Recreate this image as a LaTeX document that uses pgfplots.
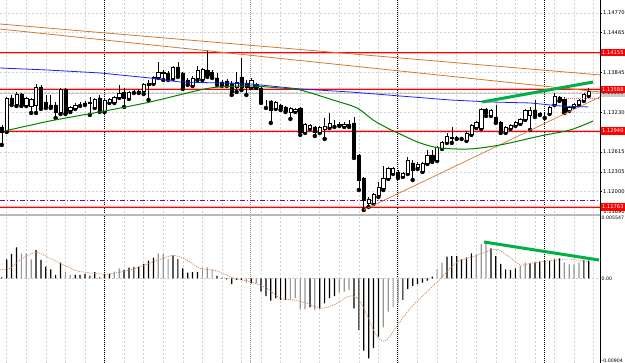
\documentclass[border=0pt]{standalone}
\usepackage{pgfplots}
\pgfplotsset{compat=1.18}
\usepackage{pgfplotstable}
\usepackage{fontspec}
\setmainfont{DejaVu Sans}

\definecolor{mtpink}{RGB}{255,175,175}
\definecolor{mtorange}{RGB}{215,120,50}
\definecolor{mtgreen}{RGB}{0,128,0}
\definecolor{mtblue}{RGB}{30,30,255}
\definecolor{mtlime}{RGB}{0,175,70}
\definecolor{mtpurple}{RGB}{150,0,150}
\definecolor{mtsig}{RGB}{205,135,95}
\definecolor{mtgray}{RGB}{150,150,150}

\pgfplotstableread{
i O H L C
0 1.13004 1.13035 1.12725 1.12926
1 1.12942 1.13469 1.12926 1.13453
2 1.13453 1.13500 1.13345 1.13376
3 1.13360 1.13546 1.13329 1.13515
4 1.13515 1.13531 1.13329 1.13345
5 1.13345 1.13469 1.13329 1.13453
6 1.13329 1.13453 1.13221 1.13438
7 1.13345 1.13670 1.13221 1.13624
8 1.13624 1.13655 1.13283 1.13314
9 1.13391 1.13500 1.13298 1.13314
10 1.13345 1.13500 1.13298 1.13314
11 1.13345 1.13391 1.13143 1.13236
12 1.13236 1.13608 1.13205 1.13593
13 1.13593 1.13608 1.13205 1.13221
14 1.13267 1.13329 1.13236 1.13314
15 1.13298 1.13376 1.13283 1.13345
16 1.13360 1.13391 1.13329 1.13360
17 1.13376 1.13407 1.13345 1.13368
18 1.13391 1.13469 1.13190 1.13376
19 1.13314 1.13453 1.13298 1.13438
20 1.13453 1.13500 1.13236 1.13267
21 1.13252 1.13453 1.13236 1.13422
22 1.13391 1.13453 1.13376 1.13438
23 1.13391 1.13484 1.13376 1.13469
24 1.13469 1.13655 1.13453 1.13531
25 1.13546 1.13608 1.13314 1.13453
26 1.13453 1.13562 1.13438 1.13546
27 1.13546 1.13577 1.13531 1.13546
28 1.13562 1.13593 1.13531 1.13554
29 1.13562 1.13686 1.13515 1.13670
30 1.13686 1.13732 1.13422 1.13655
31 1.13686 1.13794 1.13670 1.13779
32 1.13779 1.14011 1.13763 1.13856
33 1.13856 1.13887 1.13732 1.13841
34 1.13841 1.13872 1.13732 1.13748
35 1.13763 1.13949 1.13748 1.13934
36 1.13934 1.14011 1.13779 1.13810
37 1.13841 1.13856 1.13593 1.13624
38 1.13732 1.13763 1.13655 1.13686
39 1.13655 1.13794 1.13639 1.13763
40 1.13763 1.13949 1.13732 1.13887
41 1.13748 1.13918 1.13732 1.13903
42 1.13887 1.14197 1.13779 1.13810
43 1.13856 1.13887 1.13763 1.13779
44 1.13763 1.13841 1.13655 1.13686
45 1.13701 1.13732 1.13639 1.13670
46 1.13717 1.13748 1.13639 1.13670
47 1.13686 1.13717 1.13500 1.13546
48 1.13624 1.13856 1.13546 1.13701
49 1.13779 1.14073 1.13577 1.13624
50 1.13686 1.13732 1.13500 1.13624
51 1.13624 1.13763 1.13608 1.13732
52 1.13670 1.13686 1.13608 1.13624
53 1.13608 1.13624 1.13376 1.13391
54 1.13407 1.13422 1.13298 1.13407
55 1.13407 1.13422 1.13066 1.13267
56 1.13298 1.13407 1.13283 1.13391
57 1.13345 1.13360 1.13267 1.13298
58 1.13314 1.13329 1.13236 1.13252
59 1.13236 1.13314 1.13128 1.13298
60 1.13252 1.13298 1.13236 1.13283
61 1.13298 1.13314 1.12880 1.12926
62 1.12926 1.13066 1.12911 1.13050
63 1.12988 1.13050 1.12973 1.13035
64 1.13004 1.13019 1.12864 1.12926
65 1.12926 1.13019 1.12911 1.13004
66 1.12973 1.13143 1.12818 1.13019
67 1.13004 1.13221 1.12988 1.13066
68 1.13050 1.13112 1.13004 1.13050
69 1.13035 1.13081 1.13019 1.13050
70 1.13019 1.13081 1.13004 1.13050
71 1.13035 1.13112 1.13004 1.13042
72 1.13066 1.13159 1.12523 1.12539
73 1.12570 1.12586 1.12027 1.12182
74 1.12213 1.12229 1.11717 1.11872
75 1.11826 1.11919 1.11764 1.11888
76 1.11826 1.11981 1.11810 1.11965
77 1.11950 1.12151 1.11919 1.12074
78 1.12058 1.12399 1.12027 1.12213
79 1.12213 1.12384 1.12198 1.12368
80 1.12291 1.12384 1.12275 1.12368
81 1.12306 1.12337 1.12213 1.12229
82 1.12244 1.12306 1.12229 1.12291
83 1.12291 1.12539 1.12275 1.12492
84 1.12446 1.12492 1.12182 1.12337
85 1.12384 1.12461 1.12353 1.12430
86 1.12322 1.12461 1.12306 1.12446
87 1.12446 1.12647 1.12430 1.12570
88 1.12570 1.12647 1.12461 1.12492
89 1.12492 1.12709 1.12477 1.12694
90 1.12678 1.12787 1.12663 1.12771
91 1.12771 1.12911 1.12756 1.12864
92 1.12833 1.13004 1.12756 1.12849
93 1.12841 1.12864 1.12818 1.12841
94 1.12833 1.12849 1.12818 1.12833
95 1.12802 1.12942 1.12787 1.12911
96 1.12895 1.13050 1.12880 1.13035
97 1.13004 1.13097 1.12988 1.13081
98 1.12988 1.13298 1.12973 1.13283
99 1.13283 1.13298 1.13174 1.13221
100 1.13190 1.13283 1.13174 1.13267
101 1.13159 1.13345 1.13066 1.13081
102 1.13081 1.13097 1.12911 1.12926
103 1.12926 1.13019 1.12911 1.13004
104 1.12988 1.13050 1.12973 1.13035
105 1.13035 1.13097 1.13019 1.13081
106 1.13066 1.13143 1.13050 1.13128
107 1.13128 1.13283 1.13112 1.13267
108 1.13190 1.13314 1.12957 1.13267
109 1.13267 1.13422 1.13159 1.13174
110 1.13205 1.13236 1.13190 1.13221
111 1.13205 1.13236 1.13143 1.13205
112 1.13221 1.13329 1.13205 1.13314
113 1.13360 1.13531 1.13345 1.13484
114 1.13469 1.13484 1.13407 1.13422
115 1.13438 1.13469 1.13221 1.13236
116 1.13267 1.13329 1.13252 1.13314
117 1.13329 1.13376 1.13314 1.13360
118 1.13360 1.13438 1.13345 1.13422
119 1.13422 1.13531 1.13407 1.13515
120 1.13500 1.13608 1.13484 1.13562
}\candles

\pgfplotstableread{
i v
0 0.00009
1 0.00169
2 0.00217
3 0.00276
7 0.00253
8 0.00164
9 0.00104
10 0.00080
11 0.00030
12 0.00140
15 0.00030
16 0.00030
17 0.00039
18 0.00024
19 0.00054
20 0.00009
21 0.00030
22 0.00039
25 0.00074
26 0.00095
27 0.00101
28 0.00104
29 0.00128
30 0.00158
31 0.00184
35 0.00205
36 0.00172
37 0.00089
38 0.00051
39 0.00056
40 0.00054
44 0.00021
45 0.00003
46 -0.00009
47 -0.00051
48 -0.00015
49 -0.00015
51 -0.00045
53 -0.00119
54 -0.00158
55 -0.00199
56 -0.00178
57 -0.00193
58 -0.00193
63 -0.00259
65 -0.00270
66 -0.00223
67 -0.00178
68 -0.00158
72 -0.00268
73 -0.00461
74 -0.00645
75 -0.00714
76 -0.00624
77 -0.00520
82 -0.00193
83 -0.00095
84 -0.00068
85 -0.00051
86 -0.00039
87 -0.00021
88 0.00015
91 0.00193
92 0.00199
93 0.00199
94 0.00169
95 0.00187
96 0.00223
100 0.00268
101 0.00199
102 0.00128
103 0.00080
104 0.00074
105 0.00089
108 0.00134
109 0.00140
110 0.00149
111 0.00158
112 0.00158
113 0.00169
114 0.00178
119 0.00164
120 0.00158
}\macdblack

\pgfplotstableread{
i v
4 0.00223
5 0.00223
6 0.00169
13 0.00059
14 0.00030
23 0.00059
24 0.00089
32 0.00223
33 0.00217
34 0.00172
41 0.00098
42 0.00098
43 0.00080
50 -0.00039
52 -0.00045
59 -0.00187
60 -0.00178
61 -0.00276
62 -0.00276
64 -0.00282
69 -0.00128
70 -0.00119
71 -0.00104
78 -0.00437
79 -0.00297
80 -0.00259
81 -0.00223
89 0.00080
90 0.00140
97 0.00214
98 0.00306
99 0.00333
106 0.00110
107 0.00140
115 0.00140
116 0.00125
117 0.00125
118 0.00140
}\macdgray

\pgfplotstableread{
i v
-0.37 0.00074
1.68 0.00089
3.72 0.00164
7.0 0.00232
9.86 0.00178
11.9 0.00134
15.3 0.00068
18.7 0.00045
21.0 0.00036
22.8 0.00045
26.2 0.00074
29.6 0.00125
32.4 0.00169
35.1 0.00205
37.8 0.00164
40.5 0.00089
43.9 0.00068
47.4 0.00000
50.8 -0.00030
54.2 -0.00089
56.9 -0.00178
59.6 -0.00193
62.4 -0.00223
65.1 -0.00268
67.8 -0.00238
71.2 -0.00158
73.3 -0.00208
76.0 -0.00461
77.3 -0.00550
78.7 -0.00550
80.7 -0.00431
83.5 -0.00268
86.2 -0.00149
89.6 -0.00009
91.6 0.00089
93.6 0.00158
96.4 0.00193
99.2 0.00238
101.2 0.00259
103.2 0.00208
106.0 0.00119
108.0 0.00134
110.7 0.00149
114.1 0.00169
116.9 0.00169
119.9 0.00143
}\signal

\pgfplotstableread{
i p
-0.37 1.13918
9.24 1.13887
20.1 1.13841
30.3 1.13763
36.4 1.13701
44.6 1.13686
50.8 1.13670
61.0 1.13593
71.2 1.13546
81.4 1.13484
91.7 1.13422
99.8 1.13391
108.0 1.13376
114.2 1.13329
119.9 1.13314
}\bluema

\pgfplotstableread{
i p
0.65 1.12942
9.86 1.13097
21.1 1.13252
30.3 1.13391
40.5 1.13577
44.6 1.13624
50.8 1.13639
56.9 1.13608
61.0 1.13577
67.7 1.13422
72.6 1.13298
75.9 1.13112
78.8 1.12988
81.4 1.12895
85.5 1.12756
89.6 1.12678
95.7 1.12663
101.9 1.12725
110.1 1.12864
116.2 1.12957
120.9 1.13097
}\greenma

\pgfplotsset{
  panel/.style={anchor=south west, scale only axis, width=600bp,
    xmin=-0.37, xmax=122.3, scaled y ticks=false},
  upper/.style={panel, at={(0,150bp)}, height=213bp, ymin=1.11670, ymax=1.14972},
  lower/.style={panel, at={(0,0)}, height=147bp, ymin=-0.00756, ymax=0.00556},
  gridded/.style={clip mode=individual, axis line style={draw=none},
    xtick={1,5,...,121}, xticklabels={}, major x tick style={draw=none}, xmajorgrids,
    ytick pos=right, yticklabel pos=right, tick align=outside,
    major tick length=2bp, major y tick style={black, line width=0.5bp},
    grid style={gray!35, line width=0.5bp, dash pattern=on 2bp off 2bp},
    yticklabel style={font=\fontsize{5.2}{6}\selectfont, inner sep=1bp},
    extra x ticks={20.95,80.9,110.9}, extra x tick labels={},
    extra x tick style={grid=major, major tick length=0pt,
      major grid style={black, line width=0.6bp, dash pattern=on 1bp off 1bp}}},
}
\tikzset{
  lbl/.style={anchor=west, font=\fontsize{5.2}{6}\selectfont, inner sep=0pt,
    minimum height=7.5bp, minimum width=24.5bp, xshift=0.4bp},
}

\begin{document}
\begin{tikzpicture}
\useasboundingbox (0,0) rectangle (625bp,363bp);

% ---------- upper panel: background, grid, levels, wicks
\begin{axis}[upper, gridded,
  ymajorgrids,
  ytick={1.12000,1.12305,1.12615,1.12920,1.13230,1.13540,1.13845,1.14155,1.14465,1.14770},
  yticklabels={1.12000,1.12305,1.12615,{},1.13230,{},1.13845,{},1.14465,1.14770}]
\draw[mtgray, line width=0.6bp, dash pattern=on 1bp off 1bp] (axis cs:50.9,1.1167) -- (axis cs:50.9,1.14972);
\addplot[mtpink, line width=2bp, forget plot] coordinates {(-0.37,1.14155) (122.3,1.14155)};
\addplot[red, line width=0.45bp, forget plot] coordinates {(-0.37,1.14155) (122.3,1.14155)};
\addplot[mtpink, line width=2bp, forget plot] coordinates {(-0.37,1.13588) (122.3,1.13588)};
\addplot[red, line width=0.45bp, forget plot] coordinates {(-0.37,1.13588) (122.3,1.13588)};
\addplot[gray!45, line width=0.6bp, forget plot] coordinates {(-0.37,1.13531) (122.3,1.13531)};
\addplot[mtpink, line width=2bp, forget plot] coordinates {(-0.37,1.12940) (122.3,1.12940)};
\addplot[red, line width=0.45bp, forget plot] coordinates {(-0.37,1.12940) (122.3,1.12940)};
\addplot[mtpink, line width=2bp, forget plot] coordinates {(-0.37,1.11763) (122.3,1.11763)};
\addplot[red, line width=0.45bp, forget plot] coordinates {(-0.37,1.11763) (122.3,1.11763)};
\addplot[mtpurple, line width=0.8bp, dash pattern=on 5bp off 2bp on 1bp off 2bp, forget plot] coordinates {(-0.37,1.11870) (122.3,1.11870)};
\addplot[only marks, mark=none, forget plot,
  error bars/.cd, y dir=plus, y explicit, error mark=none,
  error bar style={black, line width=0.6bp}]
  table[x=i, y=L, y error plus expr={\thisrow{H}-\thisrow{L}}] {\candles};
\end{axis}

% ---------- upper panel: candle bodies
\begin{axis}[upper, hide axis, ybar stacked, bar width=3.2bp]
\addplot[draw=none, fill=none] table[x=i, y expr={min(\thisrow{O},\thisrow{C})}] {\candles};
\addplot[draw=black, fill=white, line width=0.5bp] table[x=i, y expr={max(\thisrow{C}-\thisrow{O},0)}] {\candles};
\addplot[draw=black, fill=black, line width=0.5bp] table[x=i, y expr={max(\thisrow{O}-\thisrow{C},0)}] {\candles};
\end{axis}

% ---------- upper panel: indicators, trend lines, price labels
\begin{axis}[upper, hide axis, clip mode=individual]
\addplot[mtorange, line width=0.8bp] coordinates {(-0.37,1.14600) (122.3,1.13810)};
\addplot[mtorange, line width=0.8bp] coordinates {(-0.37,1.14522) (122.3,1.13546)};
\addplot[mtorange, line width=0.7bp] coordinates {(74,1.11717) (122.3,1.13469)};
\addplot[mtblue, line width=0.8bp] table[x=i, y=p] {\bluema};
\addplot[mtgreen, line width=1bp, smooth] table[x=i, y=p] {\greenma};
\addplot[magenta!70, line width=0.7bp, dash pattern=on 1bp off 1bp] coordinates {(115,1.13453) (122.3,1.13453)};
\addplot[mtlime, line width=3bp] coordinates {(98.2,1.13391) (120.9,1.13701)};
\node[lbl, text=black] at (axis cs:122.3,1.11690) {\hspace*{2.4bp}1.11690};
\node[lbl, fill=gray!40, text=black] at (axis cs:122.3,1.13531) {1.13555};
\node[lbl, fill=red, text=white] at (axis cs:122.3,1.14155) {1.14155};
\node[lbl, fill=red, text=white] at (axis cs:122.3,1.13588) {1.13588};
\node[lbl, fill=red, text=white] at (axis cs:122.3,1.12940) {1.12940};
\node[lbl, fill=red, text=white] at (axis cs:122.3,1.11763) {1.11763};
\end{axis}

% ---------- lower panel: MACD
\begin{axis}[lower, gridded,
  major tick length=1bp,
  yticklabel style={font=\fontsize{4.7}{5.5}\selectfont, inner sep=0.5bp},
  ytick={-0.0074,0,0.0054}, yticklabels={-0.00904,0.00,0.005547}]
\draw[mtgray, line width=0.6bp, dash pattern=on 1bp off 1bp] (axis cs:50.9,-0.00756) -- (axis cs:50.9,0.00556);
\addplot[gray!40, line width=0.5bp, dash pattern=on 2bp off 2bp] coordinates {(-0.37,0) (122.3,0)};
\addplot[ybar, bar width=1.2bp, bar shift=0pt, fill=black, draw=none] table[x=i, y=v] {\macdblack};
\addplot[ybar, bar width=1.2bp, bar shift=0pt, fill=mtgray, draw=none] table[x=i, y=v] {\macdgray};
\addplot[mtsig, line width=0.7bp, dash pattern=on 1.2bp off 1bp, smooth] table[x=i, y=v] {\signal};
\addplot[mtlime, line width=3bp] coordinates {(98.6,0.00324) (122.1,0.00163)};
\end{axis}

\fill[gray!55] (0,147.4bp) rectangle (600bp,149.4bp);
\draw[black, line width=0.8bp] (600bp,0) -- (600bp,363bp);
\end{tikzpicture}
\end{document}
